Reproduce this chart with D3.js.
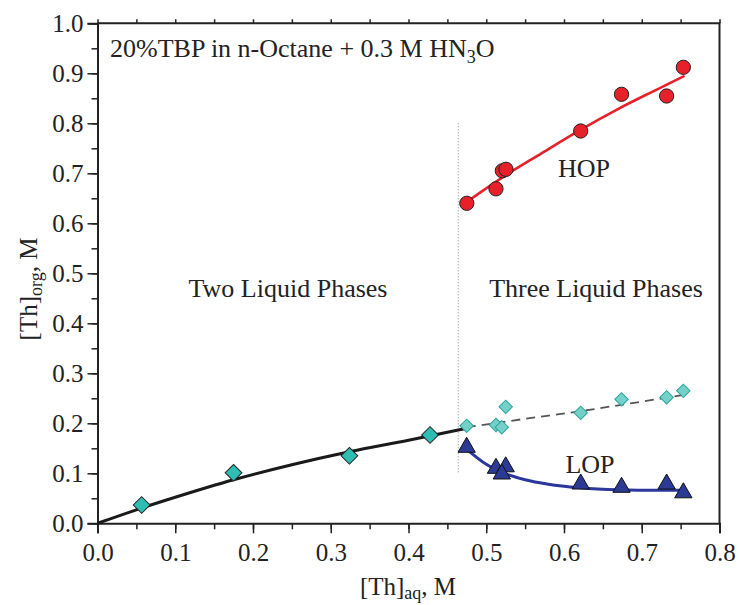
<!DOCTYPE html>
<html>
<head>
<meta charset="utf-8">
<script src="https://cdn.jsdelivr.net/npm/d3@7"></script>
<style>
  body { margin: 0; background: #fff; }
  text { font-family: "Liberation Serif", "Times New Roman", serif; fill: #222; }
</style>
</head>
<body>
<svg id="chart" width="740" height="605"></svg>
<script>
// two-phase region (teal diamonds) and its fit
var twoX = [0.0568, 0.175, 0.324, 0.4277];
var twoY = [0.0366, 0.101, 0.135, 0.1766];
var twoFitX = [0, 0.05, 0.1, 0.175, 0.25, 0.324, 0.4, 0.475];
var twoFitY = [0, 0.027, 0.052, 0.087, 0.117, 0.143, 0.166, 0.19];

// three-phase region: total organic (light diamonds)
var totX = [0.4748, 0.5125, 0.52, 0.525, 0.6215, 0.674, 0.732, 0.7535];
var totY = [0.195, 0.1966, 0.192, 0.233, 0.221, 0.248, 0.252, 0.265];
var totFitX = [0.475, 0.55, 0.62, 0.69, 0.755];
var totFitY = [0.192, 0.209, 0.224, 0.241, 0.257];

// heavy organic phase
var hopX = [0.475, 0.5125, 0.5207, 0.5254, 0.6215, 0.674, 0.732, 0.7535];
var hopY = [0.640, 0.669, 0.705, 0.708, 0.7846, 0.858, 0.8546, 0.912];
var hopFitX = [0.475, 0.52, 0.57, 0.62, 0.67, 0.72, 0.755];
var hopFitY = [0.643, 0.691, 0.739, 0.786, 0.829, 0.868, 0.895];

// light organic phase
var lopX = [0.4748, 0.5125, 0.525, 0.52, 0.6215, 0.674, 0.732, 0.7535];
var lopY = [0.152, 0.110, 0.113, 0.0986, 0.0786, 0.072, 0.0786, 0.061];
var lopFitX = [0.475, 0.50, 0.525, 0.55, 0.58, 0.62, 0.67, 0.72, 0.755];
var lopFitY = [0.148, 0.118, 0.099, 0.087, 0.078, 0.071, 0.067, 0.066, 0.066];

var yMajor = [0, 0.1, 0.2, 0.3, 0.4, 0.5, 0.6, 0.7, 0.8, 0.9, 1.0];
var xMajor = [0, 0.1, 0.2, 0.3, 0.4, 0.5, 0.6, 0.7, 0.8];
var boundaryX = 0.464;

var svg = d3.select("#chart");
var pLeft = 97.5, pRight = 719.5, pTop = 23.3, pBottom = 523.3;

var x = d3.scaleLinear().domain([0, 0.8]).range([pLeft, pRight]);
var y = d3.scaleLinear().domain([0, 1]).range([pBottom, pTop]);

function zip(a, b) { return a.map(function (v, i) { return [v, b[i]]; }); }

// axes
var xMinor = d3.range(0, 0.801, 0.05);
var yMinor = d3.range(0, 1.001, 0.05);

svg.append("g")
    .attr("transform", "translate(0," + pBottom + ")")
    .call(d3.axisBottom(x).tickValues(xMinor).tickSize(6).tickFormat(""))
    .call(function (g) { g.select(".domain").remove(); });
svg.append("g")
    .attr("transform", "translate(0," + pBottom + ")")
    .call(d3.axisBottom(x).tickValues(xMajor).tickSize(10).tickPadding(10).tickFormat(d3.format(".1f")));
svg.append("g")
    .attr("transform", "translate(0," + pTop + ")")
    .call(d3.axisTop(x).tickValues(xMinor).tickSize(4).tickFormat(""))
    .call(function (g) { g.select(".domain").remove(); });

svg.append("g")
    .attr("transform", "translate(" + pLeft + ",0)")
    .call(d3.axisLeft(y).tickValues(yMinor).tickSize(6).tickFormat(""))
    .call(function (g) { g.select(".domain").remove(); });
svg.append("g")
    .attr("transform", "translate(" + pLeft + ",0)")
    .call(d3.axisLeft(y).tickValues(yMajor).tickSize(10).tickPadding(4).tickFormat(d3.format(".1f")));

svg.selectAll(".tick line").attr("stroke", "#222").attr("stroke-width", 1.5);
svg.selectAll(".domain").attr("stroke", "#222").attr("stroke-width", 2);
svg.selectAll(".tick text").style("font-size", "25px").style("font-family", "Liberation Serif").attr("fill", "#222");

// box top / right
svg.append("path")
    .attr("d", "M" + pLeft + "," + pTop + "H" + pRight + "V" + pBottom)
    .attr("fill", "none").attr("stroke", "#222").attr("stroke-width", 2);

// phase boundary
svg.append("line")
    .attr("x1", x(boundaryX)).attr("x2", x(boundaryX))
    .attr("y1", y(0.8)).attr("y2", y(0.1))
    .attr("stroke", "#888").attr("stroke-width", 1).attr("stroke-dasharray", "1,2");

var line = d3.line().x(function (d) { return x(d[0]); }).y(function (d) { return y(d[1]); })
    .curve(d3.curveMonotoneX);

svg.append("path").datum(zip(totFitX, totFitY))
    .attr("d", line).attr("fill", "none")
    .attr("stroke", "#555").attr("stroke-width", 1.8).attr("stroke-dasharray", "9,6");
svg.append("path").datum(zip(twoFitX, twoFitY))
    .attr("d", line).attr("fill", "none")
    .attr("stroke", "#1a1a1a").attr("stroke-width", 3);
svg.append("path").datum(zip(hopFitX, hopFitY))
    .attr("d", line).attr("fill", "none")
    .attr("stroke", "#e8202a").attr("stroke-width", 2.6);
svg.append("path").datum(zip(lopFitX, lopFitY))
    .attr("d", line).attr("fill", "none")
    .attr("stroke", "#2b379c").attr("stroke-width", 3);

// markers
function markers(xs, ys, type, size, fill, stroke, rot) {
    svg.append("g").selectAll("path")
        .data(zip(xs, ys))
        .enter().append("path")
        .attr("d", d3.symbol().type(type).size(size))
        .attr("transform", function (d) {
            return "translate(" + x(d[0]) + "," + y(d[1]) + ")" + (rot ? " rotate(" + rot + ")" : "");
        })
        .attr("fill", fill).attr("stroke", stroke).attr("stroke-width", 1);
}

markers(twoX, twoY, d3.symbolSquare, 140, "#2fbcb3", "#222", 45);
markers(totX, totY, d3.symbolSquare, 90, "#74d0c9", "#2aa59c", 45);
markers(hopX, hopY, d3.symbolCircle, 160, "#e8202a", "#222", 0);
markers(lopX, lopY, d3.symbolTriangle, 130, "#2b3a94", "#111", 0);

// labels
var note = svg.append("text").attr("x", 110).attr("y", 56.5).style("font-size", "26px");
note.append("tspan").text("20%TBP in n-Octane + 0.3 M HN");
note.append("tspan").attr("dy", 6).style("font-size", "18px").text("3");
note.append("tspan").attr("dy", -6).text("O");

svg.append("text").attr("x", 288).attr("y", 297).attr("text-anchor", "middle")
    .style("font-size", "26px").text("Two Liquid Phases");
svg.append("text").attr("x", 596).attr("y", 297).attr("text-anchor", "middle")
    .style("font-size", "26px").text("Three Liquid Phases");
svg.append("text").attr("x", 584).attr("y", 177).attr("text-anchor", "middle")
    .style("font-size", "26px").text("HOP");
svg.append("text").attr("x", 590).attr("y", 473).attr("text-anchor", "middle")
    .style("font-size", "26px").text("LOP");

// axis titles
var xt = svg.append("text").attr("x", 408).attr("y", 595).attr("text-anchor", "middle")
    .style("font-size", "25px");
xt.append("tspan").text("[Th]");
xt.append("tspan").attr("dy", 4).style("font-size", "18px").text("aq");
xt.append("tspan").attr("dy", -4).text(", M");

var yt = svg.append("text").attr("transform", "translate(37,289) rotate(-90)")
    .attr("text-anchor", "middle").style("font-size", "25px");
yt.append("tspan").text("[Th]");
yt.append("tspan").attr("dy", 5).style("font-size", "18px").text("org");
yt.append("tspan").attr("dy", -5).text(", M");
</script>
</body>
</html>
